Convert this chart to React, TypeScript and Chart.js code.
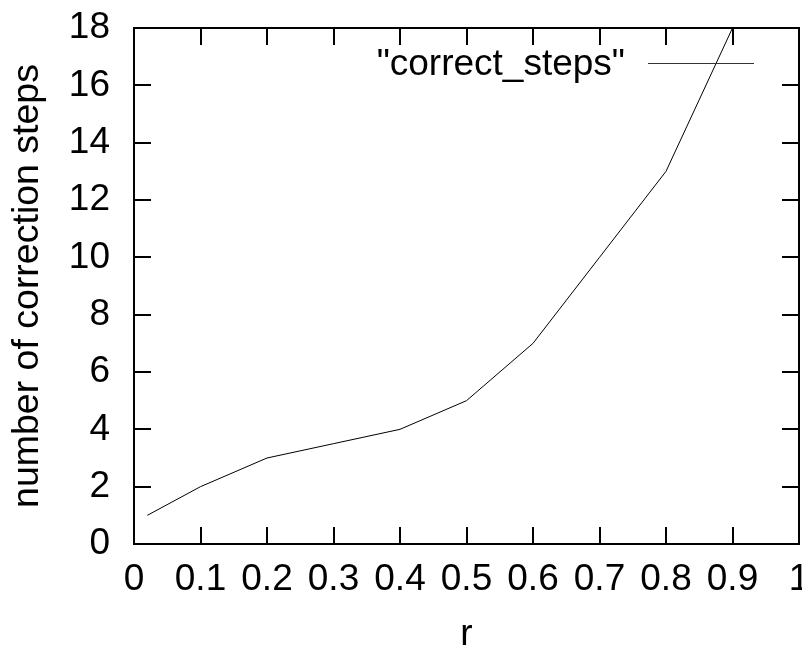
import { useEffect, useRef } from 'react';
import { Chart, registerables } from 'chart.js';

Chart.register(...registerables);

const rValues = [0.02, 0.1, 0.2, 0.3, 0.4, 0.5, 0.6, 0.7, 0.8, 0.9];
const correctSteps = [1, 2, 3, 3.5, 4, 5, 7, 10, 13, 18];
const xTickLabels = ['0', '0.1', '0.2', '0.3', '0.4', '0.5', '0.6', '0.7', '0.8', '0.9', '1'];
const yTickLabels = ['0', '2', '4', '6', '8', '10', '12', '14', '16', '18'];
const seriesLabel = '"correct_steps"';
const xTitle = 'r';
const yTitle = 'number of correction steps';

const FONT = '"Liberation Sans", Arial, Helvetica, sans-serif';
const FS = 37;

const framePlugin = {
  id: 'gnuFrame',
  afterDatasetsDraw(chart: any) {
    const { ctx, chartArea: a, scales } = chart;
    ctx.save();
    ctx.strokeStyle = '#000';
    ctx.lineWidth = 2;
    ctx.strokeRect(a.left, a.top, a.right - a.left, a.bottom - a.top);
    const tl = 17;
    ctx.beginPath();
    scales.x.ticks.forEach((t: any) => {
      const px = Math.round(scales.x.getPixelForValue(t.value));
      ctx.moveTo(px, a.bottom);
      ctx.lineTo(px, a.bottom - tl);
      ctx.moveTo(px, a.top);
      ctx.lineTo(px, a.top + tl);
    });
    scales.y.ticks.forEach((t: any) => {
      const py = Math.round(scales.y.getPixelForValue(t.value));
      ctx.moveTo(a.left, py);
      ctx.lineTo(a.left + tl, py);
      ctx.moveTo(a.right, py);
      ctx.lineTo(a.right - tl, py);
    });
    ctx.stroke();

    // gnuplot-style key: text then line sample
    const ds = chart.data.datasets[0];
    ctx.font = `${FS}px ${FONT}`;
    ctx.fillStyle = '#000';
    ctx.textAlign = 'right';
    ctx.textBaseline = 'alphabetic';
    ctx.fillText(ds.label, a.right - 174, a.top + 47);
    ctx.beginPath();
    ctx.strokeStyle = '#333';
    ctx.lineWidth = 1;
    ctx.moveTo(a.right - 151, a.top + 35.5);
    ctx.lineTo(a.right - 45, a.top + 35.5);
    ctx.stroke();
    ctx.restore();
  },
};

export default function App() {
  const ref = useRef<HTMLCanvasElement | null>(null);

  useEffect(() => {
    if (!ref.current) return;
    Chart.defaults.font.family = FONT;
    const chart = new Chart(ref.current, {
      type: 'line',
      data: {
        datasets: [
          {
            label: seriesLabel,
            data: rValues.map((x, i) => ({ x, y: correctSteps[i] })),
            borderColor: '#000',
            borderWidth: 1,
            pointRadius: 0,
            fill: false,
            tension: 0,
          },
        ],
      },
      options: {
        animation: false,
        responsive: false,
        layout: { padding: { top: 28, right: 3, left: 0, bottom: 0 } },
        plugins: {
          legend: { display: false },
          tooltip: { enabled: false },
        },
        scales: {
          x: {
            type: 'linear',
            min: 0,
            max: 1,
            grid: { display: false, drawTicks: false },
            border: { display: false },
            ticks: {
              stepSize: 0.1,
              autoSkip: false,
              maxRotation: 0,
              padding: 14,
              color: '#000',
              font: { size: FS },
              callback: (_v: any, i: number) => xTickLabels[i],
            },
            title: {
              display: true,
              text: xTitle,
              color: '#000',
              font: { size: FS, lineHeight: 0.7 },
              padding: 0,
            },
            afterFit: (s: any) => {
              s.height = 104;
              s.paddingLeft = 0;
              s.paddingRight = 0;
            },
          },
          y: {
            type: 'linear',
            min: 0,
            max: 18,
            grid: { display: false, drawTicks: false },
            border: { display: false },
            ticks: {
              stepSize: 2,
              autoSkip: false,
              padding: 24,
              color: '#000',
              font: { size: FS },
              callback: (_v: any, i: number) => yTickLabels[i],
            },
            title: {
              display: true,
              text: yTitle,
              color: '#000',
              font: { size: FS + 0.5 },
              padding: { top: 5, bottom: 0 },
            },
            afterFit: (s: any) => {
              s.width = 134;
              s.paddingTop = 0;
              s.paddingBottom = 0;
            },
          },
        },
      },
      plugins: [framePlugin],
    });
    return () => chart.destroy();
  }, []);

  return (
    <div style={{ position: 'fixed', left: 0, top: 0, width: 802, height: 648, background: '#fff' }}>
      <canvas ref={ref} width={802} height={648} />
    </div>
  );
}
